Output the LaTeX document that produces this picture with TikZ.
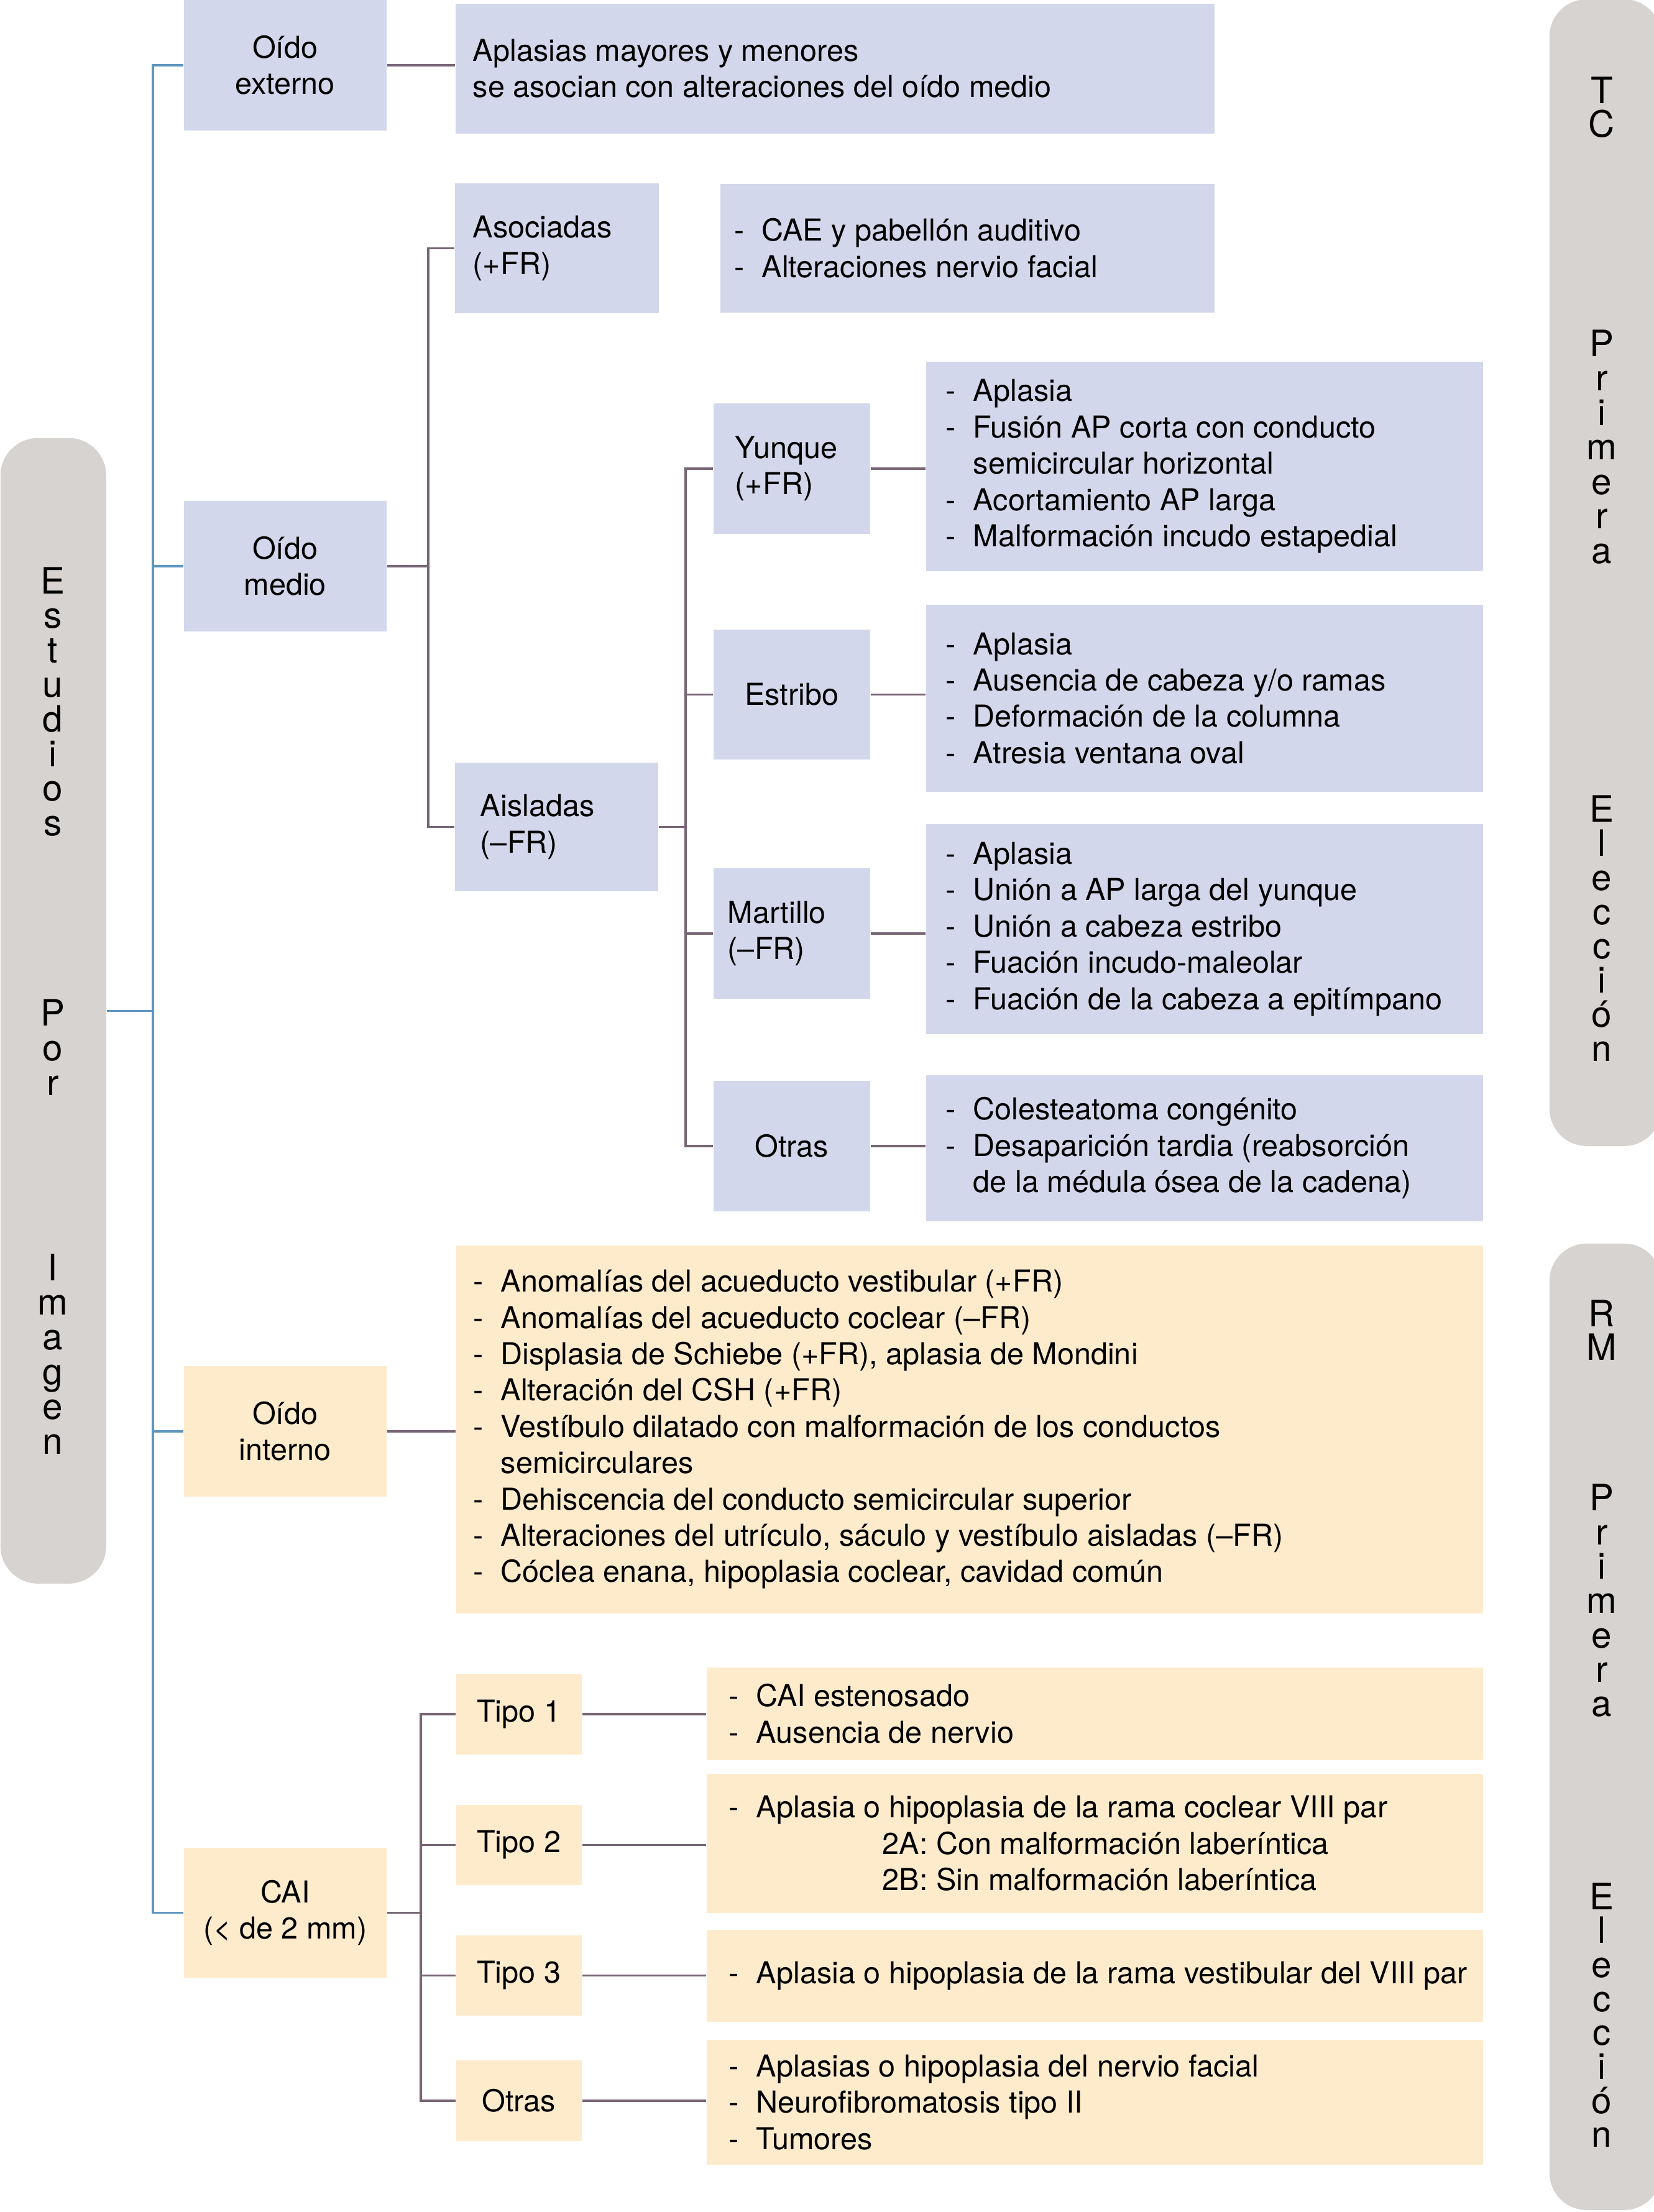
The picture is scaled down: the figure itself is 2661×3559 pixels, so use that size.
\documentclass[tikz,border=0pt]{standalone}
\usepackage{fontspec}
\setmainfont{TeX Gyre Heros}
\definecolor{lav}{HTML}{D3D7EB}
\definecolor{crm}{HTML}{FDEBCC}
\definecolor{sgray}{HTML}{D6D3D1}
\definecolor{bline}{HTML}{5F96BF}
\definecolor{pline}{HTML}{776576}
\newcommand\dd{\makebox[11pt][l]{-}}
\newcommand\ind{\hspace*{11pt}}
\newcommand\bxc[7]{%
  \pgfmathsetmacro\bw{(#5-#3)*0.25}\pgfmathsetmacro\bh{(#6-#4)*0.25}%
  \node[#1, anchor=north west, minimum width=\bw pt, minimum height=\bh pt, align=center] (#2) at (#3,#4) {#7};}
\newcommand\bxl[8]{%
  \pgfmathsetmacro\bw{(#5-#3)*0.25}\pgfmathsetmacro\bh{(#6-#4)*0.25}\pgfmathsetmacro\pd{#7*0.25}%
  \node[#1, anchor=north west, minimum width=\bw pt, minimum height=\bh pt] (#2) at (#3,#4) {};
  \node[txt, anchor=west, xshift=\pd pt] (#2t) at (#2.west) {#8};}
\begin{document}
\begin{tikzpicture}[x=0.25pt,y=-0.25pt,
  every node/.style={font=\fontsize{12.15pt}{14.6pt}\selectfont, text=black},
  lbox/.style={fill=lav, inner sep=0pt},
  cbox/.style={fill=crm, inner sep=0pt},
  txt/.style={inner sep=0pt, align=left},
  sbox/.style={fill=sgray, rounded corners=15pt, inner sep=0pt},
  sidel/.style={font=\fontsize{14.6pt}{17pt}\selectfont, inner sep=0pt, anchor=base},
  bl/.style={draw=bline, line width=0.85pt},
  pl/.style={draw=pline, line width=0.85pt}]
\useasboundingbox (0,0) rectangle (2661,3559);
\fill[white] (0,0) rectangle (2661,3559);
% side boxes
\node[sbox, anchor=north west, minimum width=42.5pt, minimum height=460.75pt] (lside) at (0,704) {};
\node[sbox, anchor=north west, minimum width=45pt, minimum height=461.25pt] (tc) at (2492,-2) {};
\node[sbox, anchor=north west, minimum width=45pt, minimum height=388.75pt] (rm) at (2492,2000) {};
% side letters
\foreach \l [count=\i] in {E,s,t,u,d,i,o,s} \node[sidel] (la\i) at (85,{955+55.6*(\i-1)}) {\l};
\foreach \l [count=\i] in {P,o,r} \node[sidel] (lb\i) at (85,{1650+56*(\i-1)}) {\l};
\foreach \l [count=\i] in {I,m,a,g,e,n} \node[sidel] (lc\i) at (85,{2060+55.8*(\i-1)}) {\l};
\foreach \l [count=\i] in {T,C} \node[sidel] (ra\i) at (2577,{166+54*(\i-1)}) {\l};
\foreach \l [count=\i] in {P,r,i,m,e,r,a} \node[sidel] (rb\i) at (2577,{573+55.5*(\i-1)}) {\l};
\foreach \l [count=\i] in {E,l,e,c,c,i,ó,n} \node[sidel] (rc\i) at (2577,{1322+55.1*(\i-1)}) {\l};
\foreach \l [count=\i] in {R,M} \node[sidel] (sa\i) at (2577,{2134+54*(\i-1)}) {\l};
\foreach \l [count=\i] in {P,r,i,m,e,r,a} \node[sidel] (sb\i) at (2577,{2430+55.3*(\i-1)}) {\l};
\foreach \l [count=\i] in {E,l,e,c,c,i,ó,n} \node[sidel] (sc\i) at (2577,{3072+54.7*(\i-1)}) {\l};
% boxes: middle/external ear
\bxc{lbox}{oe}{295}{-1}{621}{209}{Oído\\externo}
\bxl{lbox}{ap}{732}{5}{1953}{214}{28}{Aplasias mayores y menores\\se asocian con alteraciones del oído medio}
\bxl{lbox}{aso}{731}{294}{1059}{503}{29}{Asociadas\\(+FR)}
\bxl{lbox}{cae}{1158}{295}{1953}{502}{23}{\dd CAE y pabellón auditivo\\\dd Alteraciones nervio facial}
\bxc{lbox}{om}{295}{805}{621}{1015}{Oído\\medio}
\bxl{lbox}{ais}{731}{1226}{1058}{1433}{41}{Aisladas\\(–FR)}
\bxl{lbox}{yu}{1147}{648}{1399}{858}{35}{Yunque\\(+FR)}
\bxl{lbox}{yd}{1489}{581}{2385}{918}{32}{\dd Aplasia\\\dd Fusión AP corta con conducto\\\ind semicircular horizontal\\\dd Acortamiento AP larga\\\dd Malformación incudo estapedial}
\bxc{lbox}{es}{1147}{1012}{1399}{1221}{Estribo}
\bxl{lbox}{ed}{1489}{972}{2385}{1273}{32}{\dd Aplasia\\\dd Ausencia de cabeza y/o ramas\\\dd Deformación de la columna\\\dd Atresia ventana oval}
\bxl{lbox}{ma}{1147}{1396}{1399}{1606}{23}{Martillo\\(–FR)}
\bxl{lbox}{md}{1489}{1325}{2385}{1663}{32}{\dd Aplasia\\\dd Unión a AP larga del yunque\\\dd Unión a cabeza estribo\\\dd Fuación incudo-maleolar\\\dd Fuación de la cabeza a epitímpano}
\bxc{lbox}{ot}{1147}{1738}{1399}{1948}{Otras}
\bxl{lbox}{od}{1489}{1729}{2385}{1964}{32}{\dd Colesteatoma congénito\\\dd Desaparición tardia (reabsorción\\\ind de la médula ósea de la cadena)}
% inner ear
\bxc{cbox}{oi}{295}{2197}{621}{2407}{Oído\\interno}
\bxl{cbox}{oid}{733}{2003}{2385}{2595}{28}{\dd Anomalías del acueducto vestibular (+FR)\\\dd Anomalías del acueducto coclear (–FR)\\\dd Displasia de Schiebe (+FR), aplasia de Mondini\\\dd Alteración del CSH (+FR)\\\dd Vestíbulo dilatado con malformación de los conductos\\\ind semicirculares\\\dd Dehiscencia del conducto semicircular superior\\\dd Alteraciones del utrículo, sáculo y vestíbulo aisladas (–FR)\\\dd Cóclea enana, hipoplasia coclear, cavidad común}
% CAI
\bxc{cbox}{cai}{295}{2972}{621}{3181}{CAI\\(< de 2 mm)}
\bxc{cbox}{t1}{733}{2692}{935}{2822}{Tipo 1}
\bxc{cbox}{t2}{733}{2903}{935}{3032}{Tipo 2}
\bxc{cbox}{t3}{733}{3113}{935}{3242}{Tipo 3}
\bxc{cbox}{t4}{733}{3314}{935}{3444}{Otras}
\bxl{cbox}{t1d}{1136}{2682}{2385}{2831}{36}{\dd CAI estenosado\\\dd Ausencia de nervio}
\bxl{cbox}{t2d}{1136}{2853}{2385}{3077}{36}{\dd Aplasia o hipoplasia de la rama coclear VIII par\\\hspace*{61.75pt}2A: Con malformación laberíntica\\\hspace*{61.75pt}2B: Sin malformación laberíntica}
\bxl{cbox}{t3d}{1136}{3104}{2385}{3252}{36}{\dd Aplasia o hipoplasia de la rama vestibular del VIII par}
\bxl{cbox}{t4d}{1136}{3281}{2385}{3482}{36}{\dd Aplasias o hipoplasia del nervio facial\\\dd Neurofibromatosis tipo II\\\dd Tumores}
% junction coordinates
\coordinate (bx) at (246,0);
\coordinate (m1) at (689,0);
\coordinate (m2) at (1103,0);
\coordinate (m3) at (677,0);
% blue trunk
\draw[bl] (lside.east) -- (lside.east -| bx);
\draw[bl] (oe.west) -- (oe.west -| bx) -- (cai.west -| bx) -- (cai.west);
\draw[bl] (om.west) -- (om.west -| bx);
\draw[bl] (oi.west) -- (oi.west -| bx);
% purple connectors
\draw[pl] (oe.east) -- (oe.east -| ap.west);
\draw[pl] (om.east) -- (om.east -| m1);
\draw[pl] (aso.west) -- (aso.west -| m1) -- (ais.west -| m1) -- (ais.west);
\draw[pl] (ais.east) -- (ais.east -| m2);
\draw[pl] (yu.west) -- (yu.west -| m2) -- (ot.west -| m2) -- (ot.west);
\draw[pl] (es.west) -- (es.west -| m2);
\draw[pl] (ma.west) -- (ma.west -| m2);
\draw[pl] (yu.east) -- (yu.east -| yd.west);
\draw[pl] (es.east) -- (es.east -| ed.west);
\draw[pl] (ma.east) -- (ma.east -| md.west);
\draw[pl] (ot.east) -- (ot.east -| od.west);
\draw[pl] (oi.east) -- (oi.east -| oid.west);
\draw[pl] (cai.east) -- (cai.east -| m3);
\draw[pl] (t1.west) -- (t1.west -| m3) -- (t4.west -| m3) -- (t4.west);
\draw[pl] (t2.west) -- (t2.west -| m3);
\draw[pl] (t3.west) -- (t3.west -| m3);
\draw[pl] (t1.east) -- (t1.east -| t1d.west);
\draw[pl] (t2.east) -- (t2.east -| t2d.west);
\draw[pl] (t3.east) -- (t3.east -| t3d.west);
\draw[pl] (t4.east) -- (t4.east -| t4d.west);
\end{tikzpicture}
\end{document}
